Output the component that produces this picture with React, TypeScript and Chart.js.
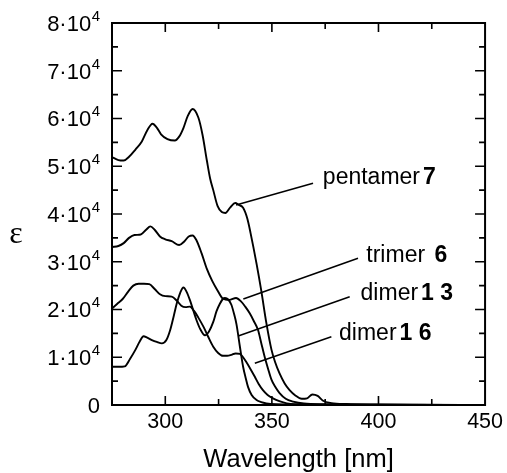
import React, { useEffect, useRef } from 'react';
import { Chart, registerables } from 'chart.js';

Chart.register(...registerables);

// ---- data (wavelength in nm, molar absorptivity) ----
const pentamerNm = [275, 278, 280.5, 283, 286, 289, 291.5, 294, 296, 298, 301, 304.5, 306.5, 308.5, 310.5, 312.8, 315.5, 317.5, 319.5, 321, 322.5, 324.5, 326.5, 328.2, 330.5, 332.8, 334.5, 336.5, 338.5, 340, 342.8, 345, 347.4, 349.8, 351.5, 353.6, 356, 358.3, 361, 364, 366.5, 369, 371.5, 374, 378, 385, 400, 420, 450];
const pentamerEps = [51900, 51300, 51200, 52000, 53500, 55200, 57500, 58900, 58100, 56700, 55700, 55400, 56200, 58000, 60500, 62000, 60200, 56500, 51200, 47500, 45000, 41700, 40400, 40200, 41400, 42300, 41900, 41300, 39000, 36000, 29600, 24000, 17200, 11600, 9000, 6600, 4500, 3100, 2000, 1300, 1400, 2200, 1900, 900, 400, 200, 100, 50, 0];

const trimerNm = [275, 278, 280.5, 283, 285.5, 288.5, 291, 293, 295, 297.5, 300, 303, 306.5, 309, 311, 312.8, 314.5, 317, 319.5, 322, 324.5, 327, 330, 333.2, 335.5, 337.5, 339.6, 341.5, 343.5, 345, 346.6, 348.2, 349.8, 351.7, 353.6, 356.5, 360, 365, 375, 390, 450];
const trimerEps = [33100, 33300, 33900, 35000, 35600, 35700, 36700, 37400, 36700, 35300, 34700, 34300, 33500, 34300, 35300, 35500, 34600, 31800, 28500, 26000, 24000, 22300, 22000, 22400, 21700, 20600, 19200, 17600, 15700, 13000, 10100, 7600, 5300, 3700, 2500, 1300, 700, 300, 150, 50, 0];

const dimer13Nm = [275, 278, 281, 283.5, 285.9, 288, 289.8, 291.5, 293.7, 296, 298.4, 300.5, 302.3, 304, 305.4, 307, 308.5, 310, 311.6, 313.2, 314.7, 316.5, 318.6, 320.5, 322.5, 324, 325.6, 327, 328, 329.5, 331, 332.3, 333.4, 335, 336.5, 337.8, 338.8, 340.5, 342.8, 345, 347.4, 352, 360, 450];
const dimer13Eps = [8000, 8000, 8100, 9700, 11500, 13300, 14400, 14100, 13600, 13200, 12900, 13600, 15700, 18700, 21300, 23500, 24600, 23700, 21900, 19700, 17700, 15800, 14600, 15400, 17400, 19600, 21200, 22200, 22400, 22100, 21000, 19000, 16900, 12200, 8000, 5500, 3800, 2100, 1050, 600, 350, 150, 50, 0];

const dimer16Nm = [275, 277.5, 280, 282.5, 285, 287.5, 290, 292.5, 295, 297.5, 300, 303, 305.5, 307.5, 309.5, 311.5, 313.5, 315.5, 318, 320, 322.5, 324.8, 327, 329, 331, 333, 335, 336.5, 338, 340, 342, 343.8, 345.8, 348, 350.5, 353.5, 357, 362, 370, 450];
const dimer16Eps = [20200, 21200, 22200, 23700, 25000, 25400, 25400, 25300, 24300, 23200, 22800, 22700, 21800, 20800, 20500, 20600, 19700, 18300, 16300, 14400, 12200, 10900, 10300, 10300, 10500, 10800, 10700, 10000, 9000, 7500, 5900, 4400, 3100, 2100, 1400, 800, 350, 150, 50, 0];

// ---- axes ----
const xMin = 275;
const xMax = 450;
const yMin = 0;
const yMax = 80000;
const xMajorTicks = [300, 350, 400, 450];
const xMinorTicks = [325, 375, 425];
const yMajorTicks = [0, 10000, 20000, 30000, 40000, 50000, 60000, 70000, 80000];
const yMinorTicks = [5000, 15000, 25000, 35000, 45000, 55000, 65000, 75000];
const yTickMantissa = ['0', '1', '2', '3', '4', '5', '6', '7', '8'];
const yTickExponent = ['', '4', '4', '4', '4', '4', '4', '4', '4'];
const xTitle = 'Wavelength [nm]';
const yTitle = 'ε';

// ---- curve labels with leader lines (data coordinates) ----
const labelNames = ['pentamer', 'trimer ', 'dimer', 'dimer'];
const labelNumbers = ['7', '6', '1 3', '1 6'];
const labelAnchorNm = [333.2, 336.6, 334.2, 342.0];
const labelAnchorEps = [41880, 22200, 14450, 8730];
const labelEndNm = [369.3, 390.4, 386.5, 377.9];
const labelEndEps = [46430, 30720, 22680, 14300];
const labelTextNm = [373.9, 394.3, 391.6, 381.5];
const labelTextEps = [47640, 31270, 23250, 14870];

const FONT = "'Liberation Sans', Arial, Helvetica, sans-serif";

const toPoints = (nm: number[], eps: number[]) => nm.map((n, i) => ({ x: n, y: eps[i] }));

const decorPlugin = {
  id: 'decor',
  afterDraw(chart: any) {
    const { ctx, chartArea: a, scales } = chart;
    const xs = scales.x;
    const ys = scales.y;
    ctx.save();
    ctx.strokeStyle = '#000';
    ctx.fillStyle = '#000';

    // frame
    ctx.lineWidth = 2;
    ctx.strokeRect(a.left, a.top, a.right - a.left, a.bottom - a.top);

    // inward ticks
    ctx.lineWidth = 1.6;
    ctx.beginPath();
    const xTick = (v: number, len: number) => {
      if (v <= xMin || v >= xMax) return;
      const p = xs.getPixelForValue(v);
      ctx.moveTo(p, a.bottom);
      ctx.lineTo(p, a.bottom - len);
      ctx.moveTo(p, a.top);
      ctx.lineTo(p, a.top + len);
    };
    const yTick = (v: number, len: number) => {
      if (v <= yMin || v >= yMax) return;
      const p = ys.getPixelForValue(v);
      ctx.moveTo(a.left, p);
      ctx.lineTo(a.left + len, p);
      ctx.moveTo(a.right, p);
      ctx.lineTo(a.right - len, p);
    };
    xMajorTicks.forEach((v) => xTick(v, 9));
    xMinorTicks.forEach((v) => xTick(v, 6));
    yMajorTicks.forEach((v) => yTick(v, 10));
    yMinorTicks.forEach((v) => yTick(v, 6));
    ctx.stroke();

    // y tick labels with superscript exponent
    const rightEdge = a.left - 12;
    ctx.textAlign = 'left';
    ctx.textBaseline = 'alphabetic';
    yMajorTicks.forEach((v, i) => {
      const p = ys.getPixelForValue(v);
      const exp = yTickExponent[i];
      const main = exp ? yTickMantissa[i] + '·10' : yTickMantissa[i];
      ctx.font = `15px ${FONT}`;
      const supW = exp ? ctx.measureText(exp).width : 0;
      ctx.font = `22px ${FONT}`;
      const mainW = ctx.measureText(main).width;
      const mainX = rightEdge - supW - (exp ? 0.5 : 0) - mainW;
      ctx.fillText(main, mainX, p + 7.8);
      if (exp) {
        ctx.font = `15px ${FONT}`;
        ctx.fillText(exp, mainX + mainW + 0.5, p - 2.2);
      }
    });

    // y axis title (epsilon)
    ctx.font = `32px 'Liberation Serif', 'DejaVu Serif', serif`;
    ctx.textAlign = 'center';
    ctx.textBaseline = 'middle';
    ctx.fillText(yTitle, 16, ys.getPixelForValue(35000) - 3);

    // curve labels
    ctx.lineWidth = 1.5;
    labelNames.forEach((name, i) => {
      ctx.beginPath();
      ctx.moveTo(xs.getPixelForValue(labelAnchorNm[i]), ys.getPixelForValue(labelAnchorEps[i]));
      ctx.lineTo(xs.getPixelForValue(labelEndNm[i]), ys.getPixelForValue(labelEndEps[i]));
      ctx.stroke();
      const tx = xs.getPixelForValue(labelTextNm[i]);
      const ty = ys.getPixelForValue(labelTextEps[i]);
      ctx.textAlign = 'left';
      ctx.textBaseline = 'middle';
      ctx.font = `23px ${FONT}`;
      ctx.fillText(name, tx, ty);
      const w = ctx.measureText(name).width;
      ctx.font = `bold 23px ${FONT}`;
      ctx.fillText(labelNumbers[i], tx + w + 3, ty);
    });
    ctx.restore();
  },
};

export default function App() {
  const canvasRef = useRef<HTMLCanvasElement | null>(null);

  useEffect(() => {
    if (!canvasRef.current) return;
    const lineStyle = {
      borderColor: '#000',
      borderWidth: 1.9,
      pointRadius: 0,
      fill: false,
      cubicInterpolationMode: 'monotone' as const,
    };
    const chart = new Chart(canvasRef.current, {
      type: 'line',
      data: {
        datasets: [
          { label: 'pentamer 7', data: toPoints(pentamerNm, pentamerEps), ...lineStyle },
          { label: 'trimer 6', data: toPoints(trimerNm, trimerEps), ...lineStyle },
          { label: 'dimer 13', data: toPoints(dimer13Nm, dimer13Eps), ...lineStyle },
          { label: 'dimer 16', data: toPoints(dimer16Nm, dimer16Eps), ...lineStyle },
        ],
      },
      options: {
        animation: false,
        responsive: false,
        devicePixelRatio: 1,
        layout: { padding: { top: 23, right: 21, left: 0, bottom: 0 } },
        plugins: { legend: { display: false }, tooltip: { enabled: false } },
        scales: {
          x: {
            type: 'linear',
            min: xMin,
            max: xMax,
            grid: { display: false, drawTicks: false },
            border: { display: false },
            afterBuildTicks: (s: any) => {
              s.ticks = xMajorTicks.map((v) => ({ value: v }));
            },
            afterFit: (s: any) => {
              s.height = 68;
            },
            ticks: {
              color: '#000',
              padding: 4,
              maxRotation: 0,
              font: { family: FONT, size: 21.5 },
              callback: (v: any) => String(v),
            },
            title: {
              display: true,
              text: xTitle,
              color: '#000',
              font: { family: FONT, size: 25.5, lineHeight: 1 },
              padding: { top: 0, bottom: 0 },
            },
          },
          y: {
            type: 'linear',
            min: yMin,
            max: yMax,
            grid: { display: false, drawTicks: false },
            border: { display: false },
            ticks: { display: false },
            afterFit: (s: any) => {
              s.width = 112;
            },
          },
        },
      },
      plugins: [decorPlugin],
    });
    return () => chart.destroy();
  }, []);

  return (
    <div style={{ position: 'fixed', left: 0, top: 0, width: 507, height: 473, background: '#fff' }}>
      <canvas ref={canvasRef} width={507} height={473} style={{ width: 507, height: 473, display: 'block' }} />
    </div>
  );
}
